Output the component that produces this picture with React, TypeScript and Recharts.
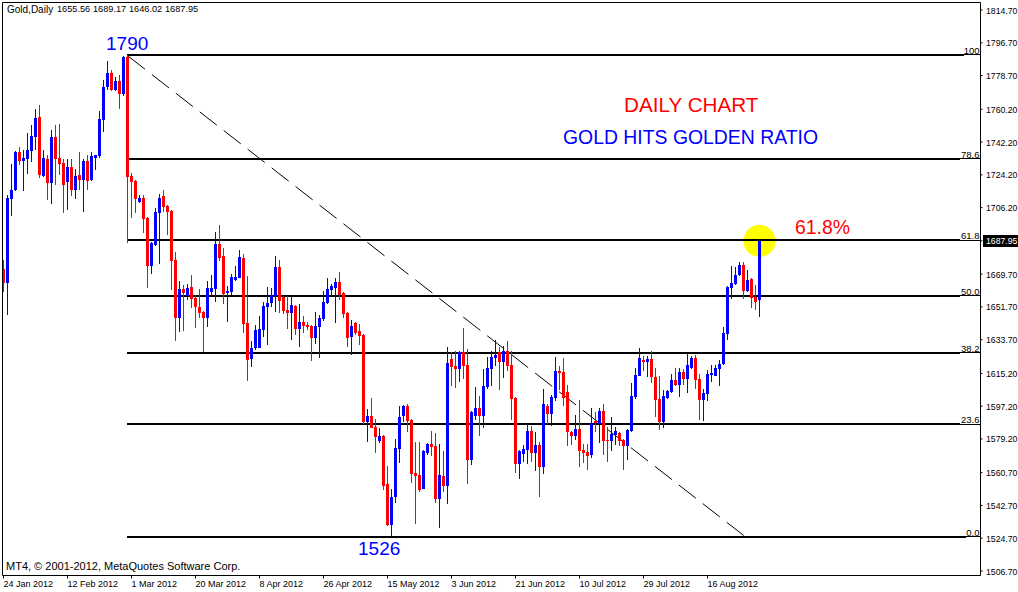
import React from "react";
import {
  ComposedChart,
  Bar,
  XAxis,
  YAxis,
  ReferenceLine,
  ReferenceDot,
} from "recharts";

const highs = [
  1677.5, 1713.1, 1730.2, 1737.3, 1739.5, 1737.8, 1747.2, 1751.6, 1760.4, 1762.6,
  1737.8, 1735.1, 1748.8, 1751.6, 1752.1, 1732.9, 1732.9, 1732.9, 1727.4, 1736.8,
  1732.9, 1735.1, 1736.8, 1735.3, 1759.3, 1776.3, 1786.7, 1781.8, 1777.9, 1779.0,
  1789.5, 1790.0, 1725.2, 1721.4, 1713.1, 1713.1, 1700.8, 1687.1, 1706.0, 1713.7,
  1715.9, 1707.7, 1704.9, 1681.9, 1666.0, 1663.8, 1664.3, 1669.2, 1658.3, 1661.6,
  1649.2, 1666.0, 1669.2, 1692.9, 1696.7, 1684.1, 1663.2, 1669.8, 1674.2, 1683.0,
  1680.8, 1668.7, 1633.0, 1641.8, 1646.7, 1654.4, 1662.7, 1662.1, 1679.7, 1677.5,
  1657.7, 1657.7, 1657.7, 1652.8, 1653.3, 1646.7, 1643.4, 1641.8, 1648.9, 1647.3,
  1660.5, 1667.6, 1664.3, 1667.6, 1670.9, 1659.9, 1648.9, 1644.5, 1643.2, 1642.3,
  1636.8, 1595.6, 1601.7, 1590.2, 1585.2, 1581.4, 1564.4, 1551.7, 1579.2, 1597.3,
  1597.8, 1598.4, 1590.2, 1577.5, 1577.5, 1573.1, 1577.0, 1583.6, 1582.5, 1576.4,
  1572.6, 1629.7, 1626.9, 1627.5, 1627.5, 1640.1, 1628.6, 1594.6, 1607.7, 1602.8,
  1617.6, 1624.2, 1627.5, 1633.5, 1629.7, 1630.2, 1633.0, 1627.5, 1602.1, 1573.1,
  1575.9, 1587.4, 1586.3, 1583.0, 1577.5, 1606.6, 1598.6, 1603.3, 1624.2, 1619.3,
  1623.6, 1608.8, 1583.3, 1592.3, 1600.6, 1576.4, 1576.4, 1596.2, 1594.2, 1596.2,
  1598.4, 1585.7, 1591.2, 1585.7, 1583.0, 1579.2, 1584.6, 1609.9, 1618.1, 1629.1,
  1624.7, 1624.7, 1627.5, 1618.1, 1613.7, 1606.1, 1606.1, 1614.8, 1618.1, 1618.1,
  1617.6, 1626.4, 1624.7, 1625.3, 1614.8, 1606.6, 1617.0, 1619.8, 1619.8, 1622.5,
  1640.6, 1663.2, 1674.1, 1673.6, 1676.3, 1676.3, 1671.9, 1667.5, 1663.7, 1689.17,
];

const lows = [
  1660.1, 1647.3, 1701.6, 1715.5, 1729.6, 1715.3, 1724.7, 1731.3, 1737.8, 1722.5,
  1723.2, 1710.4, 1708.2, 1718.6, 1724.1, 1703.3, 1704.9, 1712.6, 1710.9, 1715.9,
  1703.8, 1715.9, 1721.0, 1726.9, 1733.5, 1747.7, 1770.8, 1770.5, 1770.2, 1760.4,
  1767.5, 1686.8, 1700.5, 1703.3, 1708.8, 1692.3, 1662.1, 1669.8, 1685.1, 1675.3,
  1703.8, 1691.2, 1661.0, 1633.0, 1638.0, 1638.5, 1655.5, 1651.1, 1640.1, 1645.6,
  1627.0, 1640.7, 1657.7, 1654.4, 1676.9, 1653.3, 1643.4, 1658.3, 1666.0, 1667.3,
  1637.4, 1611.1, 1618.7, 1628.1, 1629.0, 1635.2, 1630.8, 1651.7, 1648.9, 1648.4,
  1647.8, 1639.6, 1633.6, 1636.3, 1629.7, 1637.4, 1639.0, 1622.0, 1631.4, 1623.7,
  1644.0, 1653.5, 1657.7, 1642.9, 1655.5, 1645.6, 1629.7, 1625.3, 1636.3, 1630.8,
  1587.4, 1577.5, 1585.0, 1571.5, 1577.0, 1551.2, 1531.4, 1525.9, 1544.0, 1566.0,
  1588.5, 1583.0, 1555.0, 1532.5, 1550.1, 1551.5, 1570.4, 1569.8, 1544.0, 1530.3,
  1550.1, 1543.5, 1608.3, 1607.2, 1610.5, 1612.1, 1554.5, 1564.9, 1589.6, 1580.8,
  1585.2, 1606.6, 1608.3, 1619.3, 1606.1, 1612.7, 1616.5, 1589.6, 1560.5, 1557.2,
  1566.6, 1565.5, 1566.6, 1561.6, 1547.3, 1560.0, 1587.4, 1586.3, 1600.0, 1606.1,
  1597.3, 1575.3, 1575.9, 1578.6, 1563.8, 1566.0, 1562.1, 1568.7, 1583.0, 1577.0,
  1570.4, 1566.5, 1572.6, 1575.9, 1575.3, 1562.1, 1567.6, 1583.2, 1601.1, 1613.5,
  1616.5, 1613.2, 1609.9, 1591.2, 1584.1, 1585.2, 1601.1, 1604.4, 1608.2, 1602.2,
  1608.8, 1604.4, 1617.6, 1606.6, 1589.6, 1589.0, 1600.0, 1610.5, 1613.5, 1608.2,
  1619.8, 1633.5, 1656.0, 1663.7, 1668.6, 1656.0, 1659.9, 1651.1, 1650.0, 1646.02,
];

const opens = [
  1672.3, 1665.0, 1710.9, 1715.9, 1736.8, 1731.8, 1732.9, 1737.3, 1745.0, 1756.0,
  1723.6, 1732.9, 1719.7, 1745.0, 1733.5, 1730.7, 1720.3, 1728.5, 1715.9, 1724.1,
  1721.4, 1731.8, 1721.4, 1733.5, 1734.6, 1754.3, 1772.3, 1780.1, 1770.8, 1775.7,
  1768.6, 1788.9, 1723.6, 1720.8, 1709.3, 1711.5, 1700.5, 1674.2, 1685.7, 1703.3,
  1712.6, 1707.1, 1704.4, 1677.5, 1645.6, 1661.6, 1657.7, 1662.7, 1656.6, 1651.7,
  1648.9, 1645.6, 1659.9, 1661.6, 1686.3, 1679.7, 1659.4, 1659.9, 1666.5, 1667.6,
  1678.6, 1642.9, 1623.1, 1629.2, 1629.2, 1639.0, 1651.7, 1653.9, 1657.7, 1673.6,
  1657.2, 1650.0, 1648.4, 1652.2, 1639.6, 1643.4, 1641.8, 1641.2, 1634.7, 1640.7,
  1645.1, 1653.9, 1661.0, 1662.1, 1665.4, 1659.4, 1648.4, 1635.2, 1642.9, 1638.5,
  1636.3, 1588.5, 1591.8, 1585.8, 1578.1, 1580.8, 1554.5, 1532.0, 1547.3, 1573.7,
  1591.8, 1597.3, 1589.6, 1560.5, 1559.4, 1551.7, 1571.5, 1576.4, 1575.3, 1546.2,
  1558.9, 1553.4, 1623.1, 1619.3, 1617.6, 1626.9, 1619.8, 1567.6, 1591.8, 1596.2,
  1591.8, 1607.7, 1617.6, 1623.6, 1626.9, 1621.5, 1627.5, 1619.8, 1601.7, 1565.5,
  1570.9, 1573.1, 1583.6, 1571.5, 1575.9, 1563.8, 1597.3, 1592.9, 1601.7, 1616.5,
  1616.0, 1605.0, 1583.0, 1580.8, 1584.6, 1573.1, 1572.0, 1570.4, 1589.0, 1587.4,
  1594.5, 1578.6, 1578.1, 1581.4, 1582.5, 1578.6, 1575.3, 1583.5, 1602.2, 1613.7,
  1622.5, 1621.4, 1623.1, 1613.2, 1601.1, 1588.5, 1601.7, 1605.0, 1611.5, 1608.8,
  1615.9, 1612.1, 1618.1, 1623.6, 1612.1, 1600.6, 1603.9, 1614.3, 1613.7, 1617.6,
  1620.3, 1636.8, 1662.1, 1664.3, 1669.2, 1674.7, 1660.4, 1667.0, 1657.1, 1655.56,
];

const closes = [
  1665.0, 1711.5, 1715.9, 1737.0, 1731.8, 1733.5, 1737.8, 1745.5, 1755.4, 1724.1,
  1733.5, 1719.7, 1745.0, 1732.9, 1730.2, 1718.6, 1728.5, 1715.9, 1723.6, 1721.4,
  1731.8, 1720.8, 1734.6, 1735.1, 1754.9, 1772.3, 1780.1, 1770.8, 1775.7, 1768.6,
  1788.9, 1723.0, 1720.3, 1710.9, 1711.5, 1700.0, 1674.2, 1686.8, 1703.8, 1711.5,
  1706.6, 1703.8, 1676.9, 1645.6, 1661.6, 1659.4, 1662.1, 1656.1, 1651.7, 1648.4,
  1645.6, 1662.1, 1662.1, 1686.3, 1678.6, 1658.8, 1660.5, 1668.1, 1668.1, 1679.1,
  1642.3, 1622.6, 1629.2, 1639.0, 1639.6, 1652.2, 1653.9, 1658.3, 1673.6, 1655.0,
  1649.5, 1648.4, 1652.8, 1639.6, 1643.4, 1641.2, 1640.7, 1634.7, 1641.2, 1645.6,
  1654.4, 1661.6, 1663.2, 1665.4, 1658.3, 1647.8, 1634.7, 1641.2, 1637.4, 1635.8,
  1588.5, 1591.8, 1585.2, 1580.3, 1580.8, 1553.4, 1532.0, 1547.3, 1574.2, 1591.3,
  1597.3, 1589.1, 1560.0, 1558.9, 1551.2, 1572.6, 1576.4, 1574.8, 1546.2, 1559.4,
  1553.4, 1620.9, 1618.7, 1617.6, 1626.9, 1619.3, 1567.6, 1594.0, 1596.2, 1591.8,
  1608.3, 1618.2, 1624.2, 1625.3, 1621.5, 1627.5, 1619.3, 1601.1, 1565.5, 1572.6,
  1573.7, 1583.6, 1571.5, 1575.9, 1563.8, 1598.4, 1592.9, 1602.2, 1616.5, 1615.4,
  1601.7, 1583.0, 1580.8, 1584.6, 1572.6, 1571.5, 1569.8, 1587.9, 1587.9, 1594.5,
  1578.1, 1578.1, 1581.9, 1583.5, 1578.1, 1575.3, 1584.1, 1602.8, 1614.3, 1623.6,
  1621.4, 1623.1, 1613.2, 1600.6, 1588.5, 1602.8, 1605.5, 1611.5, 1608.8, 1615.9,
  1612.1, 1619.8, 1623.6, 1611.5, 1600.6, 1604.4, 1614.8, 1615.4, 1618.1, 1620.3,
  1637.4, 1662.6, 1664.8, 1669.2, 1674.7, 1660.4, 1666.4, 1656.6, 1654.4, 1687.95,
];

const dateTicks = [0, 16, 32, 48, 64, 80, 96, 112, 128, 144, 160, 176];
const dateLabels = [
  "24 Jan 2012", "12 Feb 2012", "1 Mar 2012", "20 Mar 2012", "8 Apr 2012", "26 Apr 2012",
  "15 May 2012", "3 Jun 2012", "21 Jun 2012", "10 Jul 2012", "29 Jul 2012", "16 Aug 2012",
];

const priceTicks = [
  1814.7, 1796.7, 1778.7, 1760.2, 1742.2, 1724.2, 1706.2, 1687.95, 1669.7,
  1651.7, 1633.7, 1615.2, 1597.2, 1579.2, 1560.7, 1542.7, 1524.7, 1506.7,
];

const fibLabels = ["100", "78.6", "61.8", "50.0", "38.2", "23.6", "0.0"];
const fibPrices = [1790, 1732.9, 1688.4, 1657.7, 1626.4, 1587.4, 1525.6];
const fibEnds = [240.1, 239.1, 239.1, 239.1, 239.1, 239.1, 240.6];

const lastPrice = 1687.95;
const quoteLabels = ["1655.56", "1689.17", "1646.02", "1687.95"];
const quoteLefts = [57, 93, 129, 165];

const rows = opens.map((open, i) => ({
  idx: i,
  open,
  high: highs[i],
  low: lows[i],
  close: closes[i],
  range: [lows[i], highs[i]],
}));

const Candle = (props: any) => {
  const { x, y, width, height, payload } = props;
  const { open, high, low, close } = payload;
  const top = Math.min(y, y + height);
  const h = Math.abs(height);
  const k = h / (high - low);
  const color = close >= open ? "#0000ff" : "#ff0000";
  const bodyTop = top + (high - Math.max(open, close)) * k;
  const bodyH = Math.max(1, Math.abs(open - close) * k);
  return (
    <g shapeRendering="crispEdges">
      <rect x={x + width / 2 - 0.5} y={top} width={1} height={h} fill={color} />
      <rect x={x} y={bodyTop} width={width} height={bodyH} fill={color} />
    </g>
  );
};

const tickFont = "'Liberation Sans', Arial, sans-serif";

const PriceTick = (props: any) => {
  const { x, y, payload } = props;
  const isLast = payload.value === lastPrice;
  return (
    <g>
      {isLast && <rect x={x - 3} y={y - 6} width={35} height={12} fill="#000" shapeRendering="crispEdges" />}
      <text
        x={x}
        y={y + 3.5}
        fontSize={8.7}
        fontFamily={tickFont}
        fill={isLast ? "#fff" : "#000"}
      >
        {payload.value.toFixed(2)}
      </text>
    </g>
  );
};

const DateTick = (props: any) => {
  const { x, y, payload } = props;
  return (
    <text x={x} y={y + 8} fontSize={9} fontFamily={tickFont} fill="#000">
      {dateLabels[dateTicks.indexOf(payload.value)]}
    </text>
  );
};

const overlay = (left: number, cy: number, size: number, color: string, text: string) => (
  <div
    key={`${text}-${left}`}
    style={{
      position: "absolute",
      left,
      top: cy - size / 2,
      fontSize: size,
      lineHeight: `${size}px`,
      color,
      fontFamily: tickFont,
      whiteSpace: "pre",
    }}
  >
    {text}
  </div>
);

export default function App() {
  return (
    <div style={{ position: "absolute", left: 0, top: 0, width: 1018, height: 592, background: "#fff", overflow: "hidden" }}>
      <ComposedChart
        width={1018}
        height={592}
        data={rows}
        margin={{ top: 2.5, right: 0, bottom: 0, left: 2.5 }}
        barCategoryGap={0}
      >
        <XAxis
          dataKey="idx"
          type="number"
          scale="linear"
          domain={[-0.25, 244.25]}
          ticks={dateTicks}
          height={16.5}
          tickSize={3}
          tickMargin={0}
          interval={0}
          axisLine={{ stroke: "#000", strokeWidth: 1 }}
          tickLine={{ stroke: "#000" }}
          tick={<DateTick />}
        />
        <YAxis
          orientation="right"
          type="number"
          domain={[1504.23, 1818.82]}
          allowDataOverflow
          ticks={priceTicks}
          width={37.5}
          tickSize={2}
          tickMargin={3.5}
          interval={0}
          axisLine={{ stroke: "#000", strokeWidth: 1 }}
          tickLine={{ stroke: "#000" }}
          tick={<PriceTick />}
        />
        <ReferenceLine x={-0.25} stroke="#000" strokeWidth={1} ifOverflow="visible" />
        <ReferenceLine y={1818.82} stroke="#000" strokeWidth={1} ifOverflow="visible" />
        <ReferenceDot x={189} y={lastPrice} r={16} fill="#ffff00" stroke="none" ifOverflow="visible" zIndex={50} />
        {fibPrices.map((p, i) => (
          <ReferenceLine
            key={`t${i}`}
            segment={[{ x: 30.9, y: p }, { x: fibEnds[i], y: p }]}
            stroke="#000"
            strokeWidth={2}
            zIndex={100}
            shapeRendering="crispEdges"
          />
        ))}
        {fibPrices.map((p, i) => (
          <ReferenceLine
            key={`n${i}`}
            segment={[{ x: fibEnds[i], y: p }, { x: 244.25, y: p }]}
            stroke="#000"
            strokeWidth={1}
            zIndex={100}
            shapeRendering="crispEdges"
            label={{ value: fibLabels[i], position: "insideBottomRight", offset: 1, fontSize: 9.5, fontFamily: tickFont, fill: "#000" }}
          />
        ))}
        <ReferenceLine
          segment={[{ x: 31.1, y: 1789.5 }, { x: 185.4, y: 1525.6 }]}
          stroke="#000"
          strokeWidth={1}
          strokeDasharray="21.6 8.76"
          zIndex={100}
        />
        <Bar dataKey="range" barSize={3} isAnimationActive={false} shape={<Candle />} zIndex={300} />
      </ComposedChart>
      {overlay(7, 10, 10, "#000", "Gold,Daily")}
      {quoteLabels.map((q, i) => overlay(quoteLefts[i], 10, 9.2, "#000", q))}
      {overlay(6, 566, 11, "#000", "MT4, © 2001-2012, MetaQuotes Software Corp.")}
      {overlay(106, 43, 19, "#0000ff", "1790")}
      {overlay(358, 548, 19, "#0000ff", "1526")}
      {overlay(624, 105, 20.7, "#ff0000", "DAILY CHART")}
      {overlay(563, 138, 19.4, "#0000ff", "GOLD HITS GOLDEN RATIO")}
      {overlay(795, 228, 19.4, "#ff0000", "61.8%")}
    </div>
  );
}
